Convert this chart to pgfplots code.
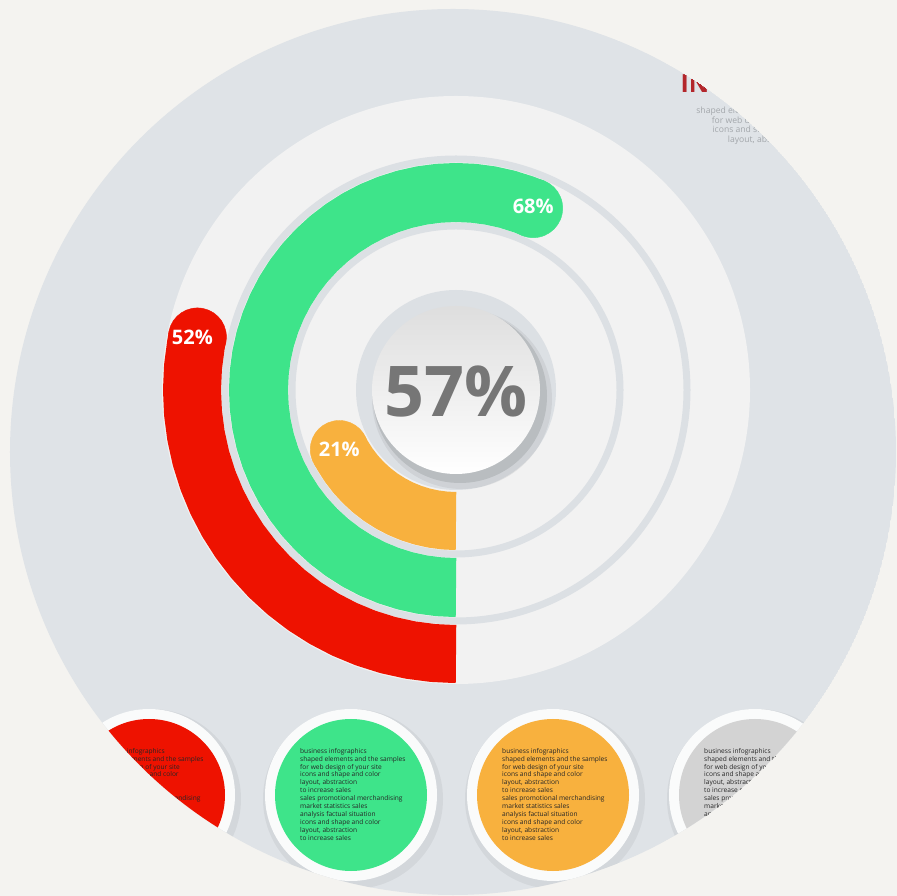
\documentclass[border=0pt]{standalone}
\usepackage{pgfplots}
\pgfplotsset{compat=1.18}
\usepackage{fontspec}
\setmainfont{Open Sans}
\definecolor{bgout}{HTML}{F4F3F0}
\definecolor{bigc}{HTML}{DFE3E7}
\definecolor{disc}{HTML}{F2F2F2}
\definecolor{ringc}{HTML}{DCE0E4}
\definecolor{barred}{HTML}{EE1200}
\definecolor{bargreen}{HTML}{3EE48A}
\definecolor{barorange}{HTML}{F8B13E}
\definecolor{bargray}{HTML}{D3D3D3}
\definecolor{txtgray}{HTML}{767676}
\definecolor{titlered}{HTML}{B3262B}
\definecolor{smallgray}{HTML}{A3A7AB}
\newcommand{\smalltxt}{business infographics\\shaped elements and the samples\\for web design of your site\\icons and shape and color\\layout, abstraction\\to increase sales\\sales promotional merchandising\\market statistics sales\\analysis factual situation\\icons and shape and color\\layout, abstraction\\to increase sales}
\newcommand{\smallcircle}[2]{%
  \fill[black, opacity=0.05] (axis cs:#1+2,-409) circle[radius=90bp];
  \fill[white!85!bigc] (axis cs:#1,-405) circle[radius=86bp];
  \fill[#2] (axis cs:#1,-405) circle[radius=76bp];
  \node[anchor=north west, align=left, inner sep=0pt, text=black!85,
        font=\fontsize{6.6bp}{7.9bp}\selectfont] at (axis cs:#1-51,-358) {\smalltxt};
}
\pgfplotsset{
  barlabel/.style={point meta=explicit symbolic, nodes near coords,
    every node near coord/.append style={anchor=center, text=white,
      font=\fontsize{20bp}{24bp}\selectfont\bfseries}},
  arc/.style={data cs=polar, line join=round, no marks},
  cap/.style={data cs=polar, only marks, mark=*, mark options={solid, draw=none}},
}
% bar tracks: angle (deg, 270 = bottom) and radius (px)
\pgfplotstableread{
a r
270 264
269.5 264
265 264
260 264
255 264
250 264
245 264
240 264
235 264
230 264
225 264
220 264
215 264
210 264
205 264
200 264
195 264
190 264
185 264
180 264
175 264
170 264
168.4 264
}\redarc
\pgfplotstableread{
a r
270 197.5
269.5 197.5
265 197.5
260 197.5
255 197.5
250 197.5
245 197.5
240 197.5
235 197.5
230 197.5
225 197.5
220 197.5
215 197.5
210 197.5
205 197.5
200 197.5
195 197.5
190 197.5
185 197.5
180 197.5
175 197.5
170 197.5
165 197.5
160 197.5
155 197.5
150 197.5
145 197.5
140 197.5
135 197.5
130 197.5
125 197.5
120 197.5
115 197.5
110 197.5
105 197.5
100 197.5
95 197.5
90 197.5
85 197.5
80 197.5
75 197.5
70 197.5
67 197.5
}\greenarc
\pgfplotstableread{
a r
270 131
269.5 131
265 131
260 131
255 131
250 131
245 131
240 131
235 131
230 131
225 131
220 131
215 131
210 131
207 131
}\orangearc
\begin{document}
\begin{tikzpicture}
\begin{axis}[x=1bp, y=1bp, xmin=-456, xmax=441, ymin=-506, ymax=390,
  hide axis, clip=false]
% background
\fill[bgout] (axis cs:-456,-506) rectangle (axis cs:441,390);
\begin{scope}
  \clip (axis cs:-3,-62) circle[radius=443bp];
  \fill[bigc] (axis cs:-3,-62) circle[radius=443bp];
  \smallcircle{-307}{barred}
  \smallcircle{-105}{bargreen}
  \smallcircle{97}{barorange}
  \smallcircle{299}{bargray}
  \node[font=\fontsize{25bp}{30bp}\selectfont\bfseries, text=titlered] at (axis cs:318,306) {INFOGRAPHICS};
  \node[anchor=north, align=center, inner sep=0pt, text=smallgray,
        font=\fontsize{8.6bp}{9.5bp}\selectfont] at (axis cs:309,283)
        {shaped elements and the samples\\for web design of your site\\icons and shape and color\\layout, abstraction};
\end{scope}
% inner light disc and track rings
\fill[disc] (axis cs:0,0) circle[radius=294bp];
\draw[ringc, line width=7bp] (axis cs:0,0) circle[radius=164bp];
\draw[ringc, line width=7bp] (axis cs:0,0) circle[radius=231bp];

% ---- red bar: 52% ----
\addplot[arc, color=barred, line width=58bp] table[x=a, y=r] {\redarc};
\addplot[cap, color=barred, mark size=29bp, mark options={fill=barred}, barlabel,
  every node near coord/.append style={xshift=-5bp}]
  coordinates {(168.4,264) [52\%]};

% ---- green bar: 68% ----
\addplot[arc, color=bargreen, line width=59bp] table[x=a, y=r] {\greenarc};
\addplot[cap, color=bargreen, mark size=29.5bp, mark options={fill=bargreen}, barlabel,
  every node near coord/.append style={yshift=2bp}]
  coordinates {(67,197.5) [68\%]};

% ---- orange bar: 21% ----
\addplot[arc, color=barorange, line width=58bp] table[x=a, y=r] {\orangearc};
\addplot[cap, color=barorange, mark size=29bp, mark options={fill=barorange}, barlabel]
  coordinates {(207,131) [21\%]};

% centre button
\fill[ringc] (axis cs:0,0) circle[radius=100bp];
\fill[black, opacity=0.10] (axis cs:4,-6) circle[radius=87bp];
\fill[black, opacity=0.06] (axis cs:6,-9) circle[radius=90bp];
\shade[top color=black!13, bottom color=white] (axis cs:0,0) circle[radius=84bp];
\node[text=txtgray, font=\fontsize{70bp}{80bp}\selectfont\bfseries] at (axis cs:0,-2) {57\%};
\end{axis}
\end{tikzpicture}
\end{document}
